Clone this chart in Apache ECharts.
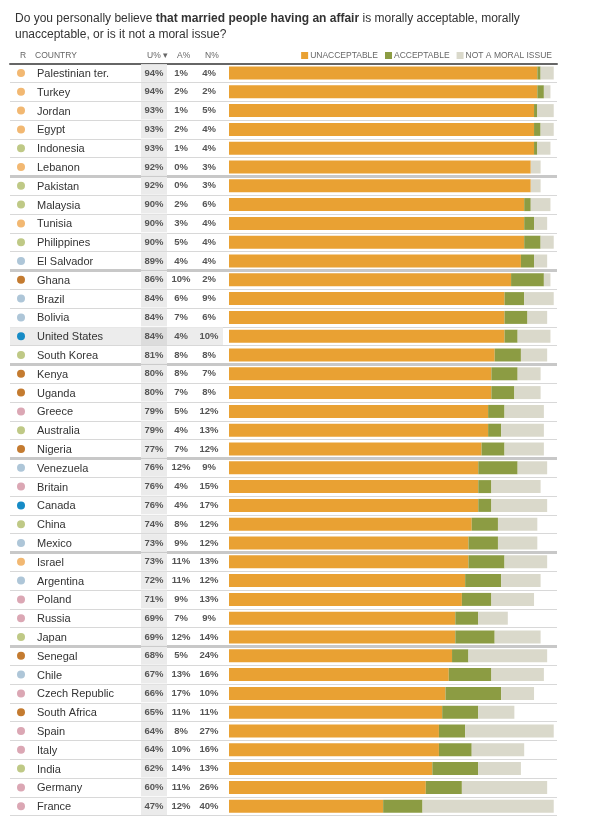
<!DOCTYPE html>
<html><head><meta charset="utf-8">
<script src="https://cdn.jsdelivr.net/npm/echarts@6/dist/echarts.min.js"></script>
<style>html,body{margin:0;padding:0;background:#fff}#c{width:600px;height:824px}</style>
</head><body><div id="c"></div>
<script>
const countries = ['Palestinian ter.','Turkey','Jordan','Egypt','Indonesia','Lebanon','Pakistan','Malaysia','Tunisia','Philippines','El Salvador','Ghana','Brazil','Bolivia','United States','South Korea','Kenya','Uganda','Greece','Australia','Nigeria','Venezuela','Britain','Canada','China','Mexico','Israel','Argentina','Poland','Russia','Japan','Senegal','Chile','Czech Republic','South Africa','Spain','Italy','India','Germany','France'];
const regions = ['me','me','me','me','asia','me','asia','asia','me','asia','latam','africa','latam','latam','na','asia','africa','africa','eu','asia','africa','latam','eu','na','asia','latam','me','latam','eu','eu','asia','africa','latam','eu','africa','eu','eu','asia','eu','eu'];
const unacceptable = [94,94,93,93,93,92,92,90,90,90,89,86,84,84,84,81,80,80,79,79,77,76,76,76,74,73,73,72,71,69,69,68,67,66,65,64,64,62,60,47];
const acceptable   = [1,2,1,2,1,0,0,2,3,5,4,10,6,7,4,8,8,7,5,4,7,12,4,4,8,9,11,11,9,7,12,5,13,17,11,8,10,14,11,12];
const notMoral     = [4,2,5,4,4,3,3,6,4,4,4,2,9,6,10,8,7,8,12,13,12,9,15,17,12,12,13,12,13,9,14,24,16,10,11,27,16,13,26,40];
const seriesNames = ['UNACCEPTABLE','ACCEPTABLE','NOT A MORAL ISSUE'];
const columnHeaders = ['R','COUNTRY','U% \u25BE','A%','N%'];
const highlight = 'United States';

const regionColors = {me:'#f2b872', asia:'#bfc986', latam:'#aec6d8', africa:'#c47b30', na:'#168bc6', eu:'#dba7b4'};
const barColors = ['#e9a133','#8c9c43','#dad9cb'];

const gridTop = 63.6, rowH = 18.8, nRows = countries.length, plotH = rowH * nRows;
const leftX = 10, barX = 229, barW = 328;
const lh = rowH - 1;

const numStyle = {fontSize:9.5, fontWeight:'bold', color:'#555', fontFamily:'Liberation Sans', verticalAlign:'middle', height:lh, lineHeight:lh, align:'center'};
const rich = {
  sp1:{width:7, height:lh, lineHeight:lh}, sp2:{width:12, height:lh, lineHeight:lh},
  name:{width:104, lineHeight:lh, padding:[2,0,0,0], fontSize:11, color:'#333', fontFamily:'Liberation Sans', verticalAlign:'middle'},
  u:Object.assign({}, numStyle, {width:26, backgroundColor:'#ebebeb'}),
  uh:Object.assign({}, numStyle, {width:26, backgroundColor:'#dcdcdc'}),
  a:Object.assign({}, numStyle, {width:28}),
  nn:Object.assign({}, numStyle, {width:28})
};
Object.keys(regionColors).forEach(k => {
  rich['d_' + k] = {width:8, height:8, borderRadius:4, backgroundColor:regionColors[k], verticalAlign:'middle', fontSize:1};
});

const catData = countries.map(c => c === highlight
  ? {value:c, textStyle:{backgroundColor:'#ececec'}}
  : c);

// colour per row boundary: visible only where a block of five rows ends
const thickColors = [];
for (let i = 0; i <= nRows; i++) thickColors.push(i > 1 && i < 32 && i % 5 === 1 ? '#c8c8c8' : 'rgba(0,0,0,0)');

const option = {
  animation:false,
  title:{
    left:10, top:6,
    text:'{n|Do you personally believe }{b|that married people having an affair}{n| is morally acceptable, morally}\n{n|unacceptable, or is it not a moral issue?}',
    textStyle:{fontWeight:'normal', rich:{
      n:{fontSize:12, color:'#333', fontWeight:'normal', fontFamily:'Liberation Sans', lineHeight:16},
      b:{fontSize:12, color:'#333', fontWeight:'bold', fontFamily:'Liberation Sans', lineHeight:16}
    }}
  },
  legend:{
    right:43, top:46, icon:'rect', itemWidth:7, itemHeight:7, itemGap:7,
    textStyle:{fontSize:8.5, color:'#666', fontFamily:'Liberation Sans', padding:[0,0,0,-3]},
    data:seriesNames
  },
  graphic:[
    {type:'text', left:20, top:51, style:{text:columnHeaders[0], fontSize:8.5, fill:'#666', fontFamily:'Liberation Sans'}},
    {type:'text', left:35, top:51, style:{text:columnHeaders[1], fontSize:8.5, fill:'#666', fontFamily:'Liberation Sans'}},
    {type:'text', left:147, top:51, style:{text:columnHeaders[2], fontSize:8.5, fill:'#666', fontFamily:'Liberation Sans'}},
    {type:'text', left:177, top:51, style:{text:columnHeaders[3], fontSize:8.5, fill:'#666', fontFamily:'Liberation Sans'}},
    {type:'text', left:205, top:51, style:{text:columnHeaders[4], fontSize:8.5, fill:'#666', fontFamily:'Liberation Sans'}}
  ],
  grid:[
    {left:leftX, top:gridTop, width:barX-leftX, height:plotH},
    {left:barX, top:gridTop, width:barW, height:plotH}
  ],
  xAxis:[0,1].map(g => ({
    gridIndex:g, type:'value', min:0, max:g===0?1:100, position:'top',
    axisLine:{show:true, onZero:false, lineStyle:{color:'#666', width:2}},
    axisTick:{show:false}, axisLabel:{show:false}, splitLine:{show:false}
  })),
  yAxis:[
    {gridIndex:0, type:'category', inverse:true, data:catData,
     axisLine:{show:false}, axisTick:{show:false},
     splitLine:{show:true, interval:0, lineStyle:{color:'#d8d8d8', width:1}},
     axisLabel:{inside:true, margin:0, interval:0, rich:rich,
       formatter:(v, i) => `{sp1|}{d_${regions[i]}| }{sp2|}{name|${v}}{${v===highlight?'uh':'u'}|${unacceptable[i]}%}{a|${acceptable[i]}%}{nn|${notMoral[i]}%}`}},
    {gridIndex:0, type:'category', inverse:true, data:countries,
     axisLine:{show:false}, axisTick:{show:false}, axisLabel:{show:false},
     splitLine:{show:true, interval:0, lineStyle:{color:thickColors, width:3}}},
    {gridIndex:1, type:'category', inverse:true, data:countries,
     axisLine:{show:false}, axisTick:{show:false}, axisLabel:{show:false},
     splitLine:{show:true, interval:0, lineStyle:{color:'#d8d8d8', width:1}}},
    {gridIndex:1, type:'category', inverse:true, data:countries,
     axisLine:{show:false}, axisTick:{show:false}, axisLabel:{show:false},
     splitLine:{show:true, interval:0, lineStyle:{color:thickColors, width:3}}}
  ],
  series:[unacceptable, acceptable, notMoral].map((d, k) => ({
    name:seriesNames[k], type:'bar', stack:'t', xAxisIndex:1, yAxisIndex:2,
    barWidth:13, data:d, itemStyle:{color:barColors[k]}, silent:true
  }))
};
echarts.init(document.getElementById('c'), null, {renderer:'canvas'}).setOption(option);
</script></body></html>
